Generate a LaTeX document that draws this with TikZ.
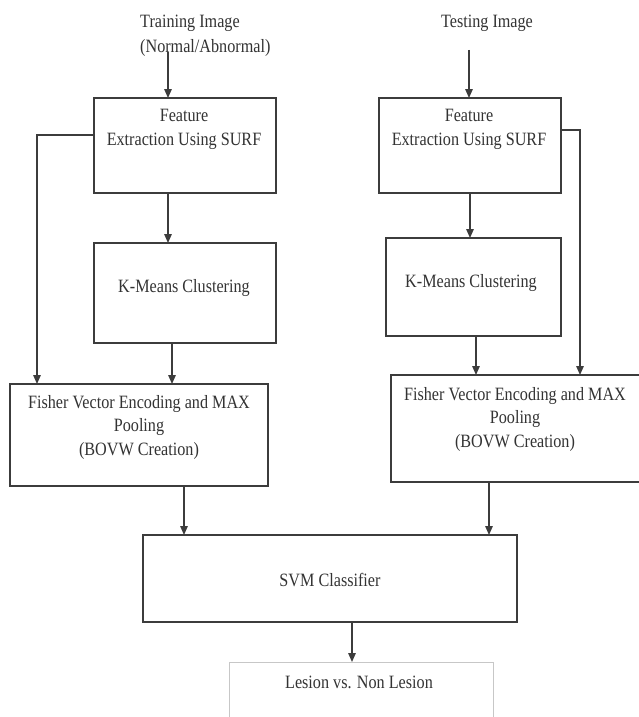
\documentclass[tikz,border=0pt]{standalone}
\usepackage{fontspec}
\newfontfamily\diagfont[FakeStretch=0.86]{Liberation Serif}
\usetikzlibrary{arrows.meta}
\definecolor{ln}{HTML}{3C3C3C}
\definecolor{tx}{HTML}{333333}
\tikzset{
  box/.style={draw=ln, line width=1.4pt, rectangle, inner sep=0pt, outer sep=0pt, fill=white},
  lbl/.style={text=tx, font=\diagfont\fontsize{18.8}{23.5}\selectfont, align=center, inner sep=0pt},
  arr/.style={draw=ln, line width=1.4pt, -{Triangle[length=9pt,width=7.5pt]}},
}
\begin{document}
\begin{tikzpicture}[x=1pt,y=-1pt]
\useasboundingbox (0,0) rectangle (639,717);
\clip (0,0) rectangle (639,717);
\fill[white] (0,0) rectangle (639,717);
% boxes
\node[box, minimum width=182pt, minimum height=95pt] (lfeat) at (185,145.5) {};
\node[box, minimum width=182pt, minimum height=95pt] (rfeat) at (470,145.5) {};
\node[box, minimum width=182pt, minimum height=100pt] (lkm) at (185,293) {};
\node[box, minimum width=175pt, minimum height=98pt] (rkm) at (473.5,287) {};
\node[box, minimum width=258pt, minimum height=102pt] (lfish) at (139,435) {};
\node[box, minimum width=251pt, minimum height=107pt] (rfish) at (516.5,428.5) {};
\node[box, minimum width=374pt, minimum height=87pt] (svm) at (330,578.5) {};
\node[box, draw=black!22, line width=0.8pt, minimum width=264pt, minimum height=60pt] (les) at (361,692) {};
% texts
\node[lbl, anchor=west] (trn1) at (140,23) {Training Image};
\node[lbl, anchor=west] (trn2) at (140,48) {(Normal/Abnormal)};
\node[lbl] (tst) at (487,23) {Testing Image};
\node[lbl] (lfeatT) at (184,129.5) {Feature\\Extraction Using SURF};
\node[lbl] (rfeatT) at (469,129.5) {Feature\\Extraction Using SURF};
\node[lbl] (lkmT) at (184,288) {K-Means Clustering};
\node[lbl] (rkmT) at (471,283) {K-Means Clustering};
\node[lbl] (lfishT) at (139,427) {Fisher Vector Encoding and MAX\\Pooling\\(BOVW Creation)};
\node[lbl] (rfishT) at (515,419) {Fisher Vector Encoding and MAX\\Pooling\\(BOVW Creation)};
\node[lbl] (svmT) at (330,580) {SVM Classifier};
\node[lbl] (lesT) at (359,682) {Lesion vs. Non Lesion};
% connector helper coordinates
\coordinate (t1) at (168,52);
\coordinate (t2) at (469,50);
\coordinate (lc) at (37,135);
\coordinate (rc) at (580,130);
\coordinate (xl2) at (172,0);
\coordinate (xr1) at (470,0);
\coordinate (xr2) at (476,0);
\coordinate (xs1) at (184,0);
\coordinate (xs2) at (489,0);
\coordinate (xo) at (352,0);
% connectors
\draw[arr] (t1) -- (t1 |- lfeat.north);
\draw[arr] (t2) -- (t2 |- rfeat.north);
\draw[arr] (lfeat.south -| t1) -- (lkm.north -| t1);
\draw[arr] (rfeat.south -| xr1) -- (rkm.north -| xr1);
\draw[arr] (lkm.south -| xl2) -- (lfish.north -| xl2);
\draw[arr] (rkm.south -| xr2) -- (rfish.north -| xr2);
\draw[arr] (lfeat.west |- lc) -- (lc) -- (lc |- lfish.north);
\draw[arr] (rfeat.east |- rc) -- (rc) -- (rc |- rfish.north);
\draw[arr] (lfish.south -| xs1) -- (svm.north -| xs1);
\draw[arr] (rfish.south -| xs2) -- (svm.north -| xs2);
\draw[arr] (svm.south -| xo) -- (les.north -| xo);
\end{tikzpicture}
\end{document}
